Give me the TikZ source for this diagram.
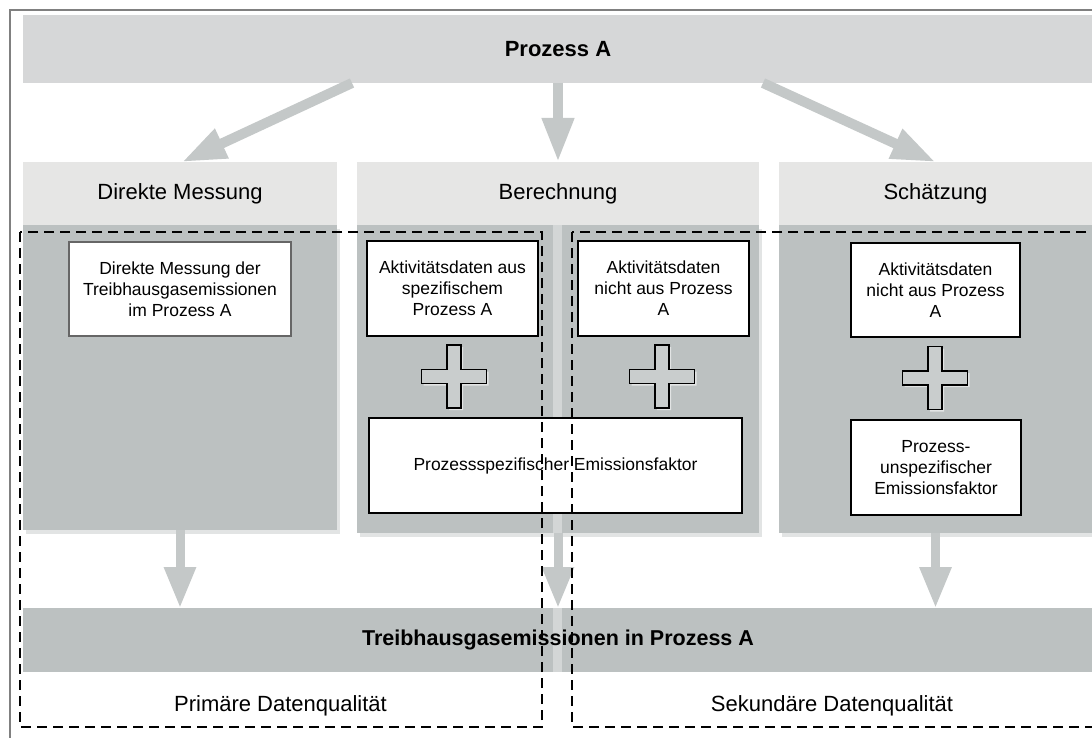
\documentclass[tikz,border=0pt]{standalone}
\usepackage{fontspec}
\setmainfont{Liberation Sans}
\usetikzlibrary{arrows.meta,calc}
\definecolor{topgray}{HTML}{D6D7D8}
\definecolor{headgray}{HTML}{E6E6E5}
\definecolor{panelgray}{HTML}{BCC1C1}
\definecolor{arrowgray}{HTML}{C4C8C8}
\definecolor{stripgray}{HTML}{D3D6D6}
\definecolor{crossgray}{HTML}{C9CDCD}
\definecolor{framegray}{HTML}{808080}
\definecolor{shadowgray}{HTML}{E2E4E4}
\begin{document}
\begin{tikzpicture}[x=1pt,y=-1pt,
  topbar/.style={fill=topgray, inner sep=0pt, outer sep=0pt, font=\fontsize{22}{26}\selectfont\bfseries},
  headbox/.style={fill=headgray, inner sep=0pt, outer sep=0pt, font=\fontsize{22}{26}\selectfont},
  panelbox/.style={fill=panelgray, inner sep=0pt, outer sep=0pt},
  wbox/.style={fill=white, draw=black, line width=1.2pt, inner sep=0pt, outer sep=0pt, align=center, font=\fontsize{17.5}{21}\selectfont},
  bigarrow/.style={draw=arrowgray, line width=10pt, -{Triangle[length=44pt,width=30pt]}},
  downarrow/.style={draw=arrowgray, line width=9pt, -{Triangle[length=41pt,width=30pt]}},
  dashbox/.style={draw=black, line width=1.3pt, dash pattern=on 10pt off 6pt},
  qlabel/.style={inner sep=0pt, font=\fontsize{22}{26}\selectfont},
  crossshape/.style={fill=crossgray, draw=black, line width=1.2pt, line join=miter}
]
\useasboundingbox (0,0) rectangle (1092,738);
\clip (0,0) rectangle (1092,738);
\fill[white] (0,0) rectangle (1092,738);

% outer frame
\draw[framegray, line width=1.5pt] (10,10) rectangle (1110,760);

% top bar
\node[topbar, minimum width=1070pt, minimum height=68pt] (top) at (558,49) {Prozess A};

% shadows of panels
\fill[shadowgray] (26,229) rectangle (340,534);
\fill[shadowgray] (360,229) rectangle (762,537);
\fill[shadowgray] (782,229) rectangle (1100,537);

% headers
\node[headbox, minimum width=314pt, minimum height=63pt] (dmh) at (180,193.5) {Direkte Messung};
\node[headbox, minimum width=402pt, minimum height=63pt] (berh) at (558,193.5) {Berechnung};
\node[headbox, minimum width=313pt, minimum height=63pt] (schh) at (935.5,193.5) {Schätzung};

% panels
\node[panelbox, minimum width=314pt, minimum height=305pt] (dmp) at (180,377.5) {};
\node[panelbox, minimum width=402pt, minimum height=308pt] (berp) at (558,379) {};
\node[panelbox, minimum width=313pt, minimum height=308pt] (schp) at (935.5,379) {};

% light strip in the middle
\fill[stripgray] (553,225) rectangle (562,533);

% bottom bar
\node[panelbox, minimum width=1070pt, minimum height=64pt] (bot) at (558,640) {};
\fill[stripgray] (553,608) rectangle (562,672);
\node[inner sep=0pt, font=\fontsize{21.5}{26}\selectfont\bfseries] (bottxt) at (558,640) {Treibhausgasemissionen in Prozess A};

% arrows from top bar
\draw[bigarrow] ([xshift=329pt]top.south west) -- ([xshift=2pt]dmh.north);
\draw[bigarrow] (top.south) -- (berh.north);
\draw[bigarrow] ([xshift=-330pt]top.south east) -- (schh.north);

% arrows to bottom bar
\draw[downarrow] (dmp.south) -- (dmp.south |- bot.north);
\draw[downarrow] (berp.south) -- (berp.south |- bot.north);
\draw[downarrow] (schp.south) -- (schp.south |- bot.north);

% white boxes
\node[wbox, draw=black!60, minimum width=222pt, minimum height=94pt] (dmbox) at (180,289) {Direkte Messung der\\Treibhausgasemissionen\\im Prozess A};
\node[wbox, minimum width=171pt, minimum height=95pt] (a1) at (452.5,288.5) {Aktivitätsdaten aus\\spezifischem\\Prozess A};
\node[wbox, minimum width=171pt, minimum height=95pt] (a2) at (663.5,288.5) {Aktivitätsdaten\\nicht aus Prozess\\A};
\node[wbox, minimum width=373pt, minimum height=95pt] (pef) at (555.5,465.5) {Prozessspezifischer Emissionsfaktor};
\node[wbox, minimum width=169pt, minimum height=94pt] (s1) at (935.5,290) {Aktivitätsdaten\\nicht aus Prozess\\A};
\node[wbox, minimum width=170pt, minimum height=95pt] (s2) at (936,467.5) {Prozess-\\unspezifischer\\Emissionsfaktor};

% plus signs
\foreach \cx/\cy in {454/376.5, 662/376.5, 935/378} {
  \fill[shadowgray, shift={(\cx+2,\cy+2)}] (-7,-31.5) -- (7,-31.5) -- (7,-7) -- (32.5,-7) -- (32.5,7) -- (7,7) -- (7,31.5) -- (-7,31.5) -- (-7,7) -- (-32.5,7) -- (-32.5,-7) -- (-7,-7) -- cycle;
  \draw[crossshape, shift={(\cx,\cy)}] (-7,-31.5) -- (7,-31.5) -- (7,-7) -- (32.5,-7) -- (32.5,7) -- (7,7) -- (7,31.5) -- (-7,31.5) -- (-7,7) -- (-32.5,7) -- (-32.5,-7) -- (-7,-7) -- cycle;
}

% quality labels
\node[qlabel] (prim) at (280.5,706) {Primäre Datenqualität};
\node[qlabel] (sek) at (832,706) {Sekundäre Datenqualität};

% dashed regions
\draw[dashbox] (20,232) rectangle (542,727);
\draw[dashbox] (572,232) rectangle (1110,727);
\end{tikzpicture}
\end{document}
